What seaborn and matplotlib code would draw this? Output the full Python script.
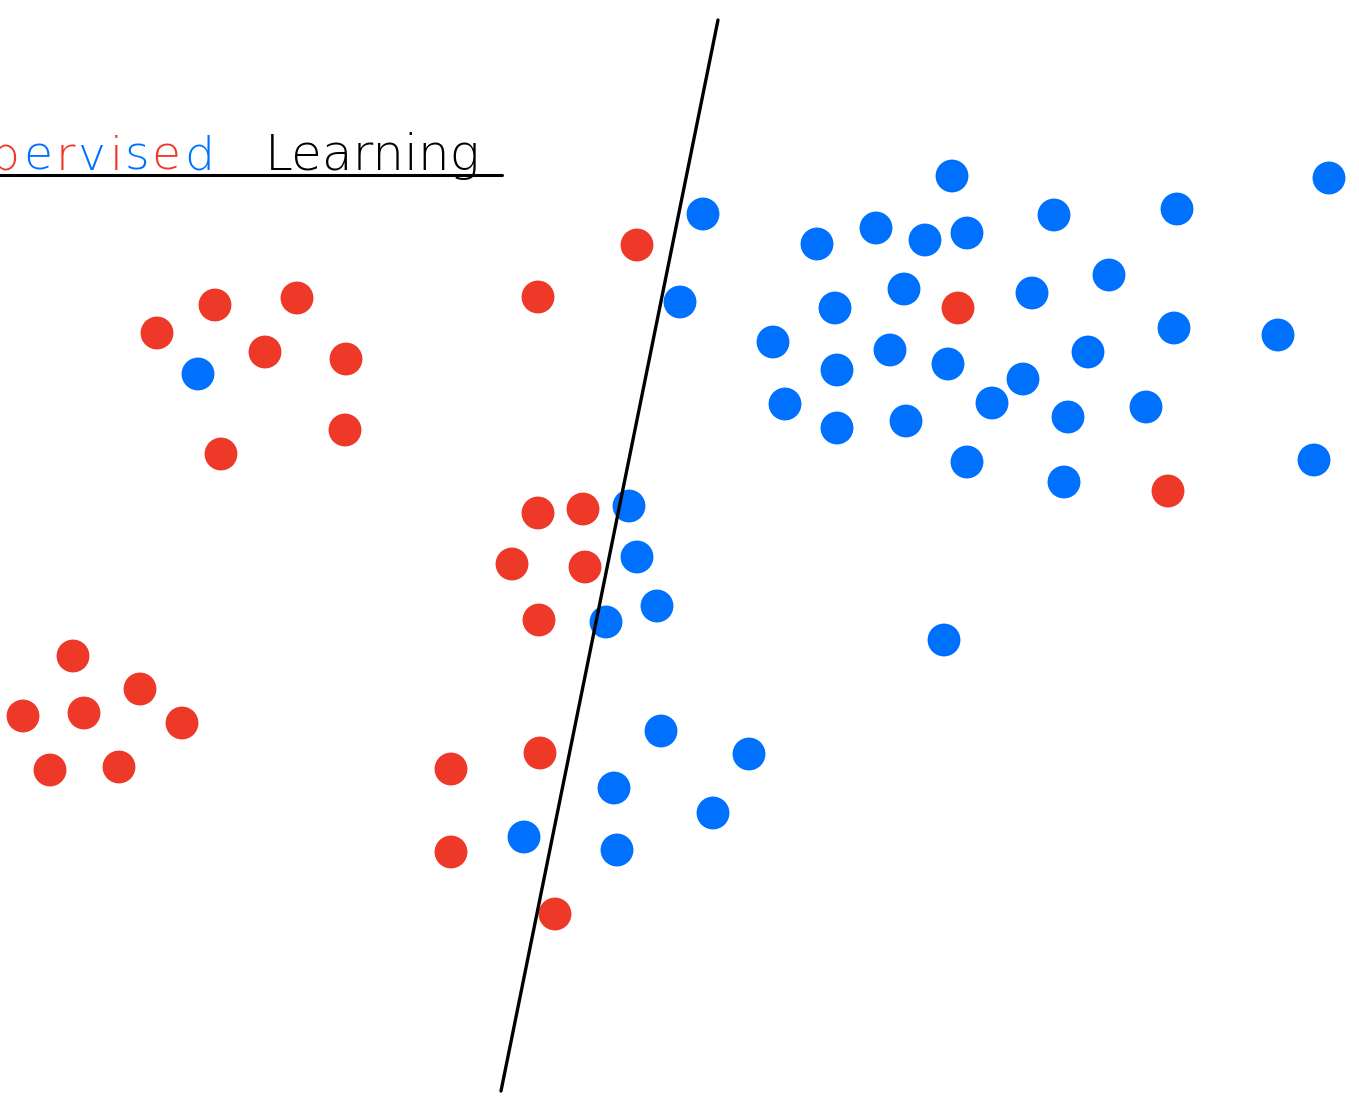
"""Hand-drawn style scatter: two classes split by a single line."""

import matplotlib
matplotlib.use('Agg')
import matplotlib.pyplot as plt
import numpy as np
import pandas as pd
import seaborn as sns

# Point positions (pixel space, y grows downward)
red_x = [637, 538, 215, 297, 157, 265, 346, 345, 221, 538, 583, 512, 585, 539,
         73, 140, 23, 84, 182, 50, 119, 540, 451, 451, 555, 958, 1168]
red_y = [245, 297, 305, 298, 333, 352, 359, 430, 454, 513, 509, 564, 567, 620,
         656, 689, 716, 713, 723, 770, 767, 753, 769, 852, 914, 308, 491]

blue_x = [198, 703, 680, 952, 876, 925, 967, 817, 1054, 1177, 1329, 1109, 904,
          1032, 835, 773, 890, 948, 837, 1088, 1174, 1278, 1023, 785, 992, 837,
          906, 1068, 1146, 967, 1064, 1314, 629, 637, 657, 606, 944, 661, 749,
          614, 713, 524, 617]
blue_y = [374, 214, 302, 176, 228, 240, 233, 244, 215, 209, 178, 275, 289,
          293, 308, 342, 350, 364, 370, 352, 328, 335, 379, 404, 403, 428,
          421, 417, 407, 462, 482, 460, 506, 557, 606, 622, 640, 731, 754,
          788, 813, 837, 850]

# Separating line endpoints
line_x = [718, 501]
line_y = [20, 1091]

title_letters = ['p', 'e', 'r', 'v', 'i', 's', 'e', 'd']
RED = '#EE3828'
BLUE = '#0070FF'

df = pd.DataFrame({
    'x': red_x + blue_x,
    'y': red_y + blue_y,
    'label': ['red'] * len(red_x) + ['blue'] * len(blue_x),
})

sns.set_style('white')
fig = plt.figure(figsize=(13.59, 10.97), dpi=100)
ax = fig.add_axes([0, 0, 1, 1])

sns.scatterplot(data=df, x='x', y='y', hue='label',
                palette={'red': RED, 'blue': BLUE},
                s=560, linewidth=0, legend=False, ax=ax, zorder=2)
sns.lineplot(x=line_x, y=line_y, color='black', linewidth=2.4,
             sort=False, ax=ax, zorder=3)

ax.set_xlim(0, 1359)
ax.set_ylim(1097, 0)
ax.axis('off')

# underline under the heading
ax.plot([0, 502], [175, 175], color='black', linewidth=2.2, zorder=3)

# heading, letters alternating red / blue, cut at the left edge
fig.canvas.draw()
renderer = fig.canvas.get_renderer()
x_pos = -10
colors = [RED, BLUE] * 4
for ch, col in zip(title_letters, colors):
    t = ax.text(x_pos, 170, ch, color=col, fontsize=34, family='DejaVu Sans',
                fontweight='light', va='baseline', ha='left')
    bb = t.get_window_extent(renderer=renderer)
    x_pos += bb.width * 1.12
ax.text(265, 170, 'Learning', color='black', fontsize=36,
        family='DejaVu Sans', fontweight='light', va='baseline', ha='left')

fig.savefig('out.png', dpi=100)
